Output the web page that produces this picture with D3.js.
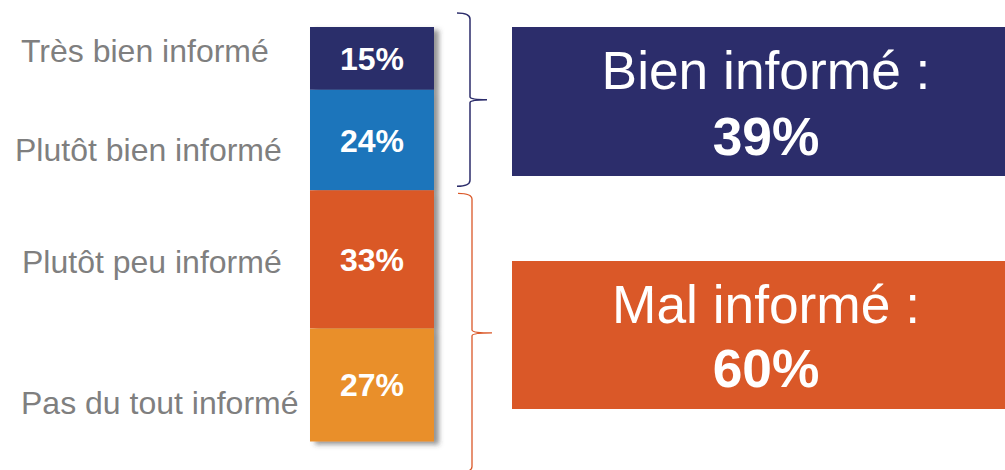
<!DOCTYPE html>
<html>
<head>
<meta charset="utf-8">
<script src="https://cdn.jsdelivr.net/npm/d3@7"></script>
<style>
  html, body { margin: 0; padding: 0; background: #fff; }
  svg { display: block; font-family: "Liberation Sans", Arial, sans-serif; }
</style>
</head>
<body>
<svg id="chart" width="1005" height="470"></svg>
<script>
// ---- data ----
const categories = ["Très bien informé", "Plutôt bien informé", "Plutôt peu informé", "Pas du tout informé"];
const values = [15, 24, 33, 27];
const colors = ["#2C2D6B", "#1C75BB", "#DA5828", "#E98F2C"];
const groupNames = ["Bien informé :", "Mal informé :"];
const groupValues = [39, 60];
const groupColors = ["#2C2D6B", "#DA5828"];
const groupMembers = [[0, 1], [2, 3]];

// ---- layout ----
const W = 1005, H = 470;
const svg = d3.select("#chart");
const total = d3.sum(values);
const y = d3.scaleLinear().domain([0, total]).range([27, 441.5]);
const barX = 310, barW = 124;

const stacked = [];
let acc = 0;
values.forEach((v, i) => { stacked.push({ i, v, y0: acc, y1: acc + v }); acc += v; });

// shadow filter
const defs = svg.append("defs");
const f = defs.append("filter").attr("id", "shadow").attr("x", "-10%").attr("y", "-10%").attr("width", "130%").attr("height", "130%");
f.append("feDropShadow").attr("dx", 5).attr("dy", 3).attr("stdDeviation", 2.5)
  .attr("flood-color", "#404040").attr("flood-opacity", 0.55);

const bar = svg.append("g").attr("filter", "url(#shadow)");
bar.selectAll("rect").data(stacked).join("rect")
  .attr("x", barX).attr("width", barW)
  .attr("y", d => y(d.y0))
  .attr("height", d => y(d.y1) - y(d.y0))
  .attr("fill", d => colors[d.i]);

svg.append("g").selectAll("text").data(stacked).join("text")
  .attr("x", barX + barW / 2)
  .attr("y", d => (y(d.y0) + y(d.y1)) / 2 + 11.5)
  .attr("text-anchor", "middle")
  .attr("font-size", 32).attr("font-weight", "bold").attr("fill", "#fff")
  .text(d => d.v + "%");

// category labels (left)
const labelNudgeY = [-7.5, 9, 2, 17.5];
const labelNudgeX = [1, -5, 2, 1];
svg.append("g").selectAll("text").data(stacked).join("text")
  .attr("x", d => 20 + labelNudgeX[d.i])
  .attr("y", d => (y(d.y0) + y(d.y1)) / 2 + 11.5 + labelNudgeY[d.i])
  .attr("font-size", 32).attr("fill", "#7F7F7F")
  .text(d => categories[d.i]);

// brackets
function bracePath(y0, y1, xl, xv, xt) {
  const ym = (y0 + y1) / 2, r = 6;
  return `M${xl},${y0} Q${xv},${y0} ${xv},${y0 + r} L${xv},${ym - 3} Q${xv},${ym} ${xt},${ym} ` +
         `Q${xv},${ym} ${xv},${ym + 3} L${xv},${y1 - r} Q${xv},${y1} ${xl},${y1}`;
}
const groups = groupMembers.map((m, gi) => {
  const s0 = stacked[m[0]].y0, s1 = stacked[m[m.length - 1]].y1;
  return { gi, s0, s1 };
});
const braceSpec = [
  { top: y(groups[0].s0) - 14, bot: y(groups[0].s1) - 4, xl: 457, xv: 470, xt: 487, w: 1.5 },
  { top: y(groups[1].s0) + 3, bot: y(groups[1].s1) + 31, xl: 458, xv: 472, xt: 492, w: 1.3 }
];
svg.append("g").selectAll("path").data(groups).join("path")
  .attr("d", d => { const b = braceSpec[d.gi]; return bracePath(b.top, b.bot, b.xl, b.xv, b.xt); })
  .attr("fill", "none")
  .attr("stroke", d => groupColors[d.gi])
  .attr("stroke-width", d => braceSpec[d.gi].w);

// summary boxes
const boxTops = [27, 261];
const boxX = 512, boxW = 508;
const boxes = svg.append("g").selectAll("g").data(groups).join("g")
  .attr("transform", d => `translate(${boxX},${boxTops[d.gi]})`);
boxes.append("rect").attr("width", boxW).attr("height", d => d.gi === 0 ? 149 : 148)
  .attr("fill", d => groupColors[d.gi]);
boxes.append("text").attr("x", boxW / 2).attr("y", 62)
  .attr("text-anchor", "middle").attr("font-size", 53.3).attr("fill", "#fff")
  .text(d => groupNames[d.gi]);
boxes.append("text").attr("x", boxW / 2).attr("y", d => d.gi === 0 ? 128 : 126)
  .attr("text-anchor", "middle").attr("font-size", 53.3).attr("font-weight", "bold").attr("fill", "#fff")
  .text(d => groupValues[d.gi] + "%");
</script>
</body>
</html>
